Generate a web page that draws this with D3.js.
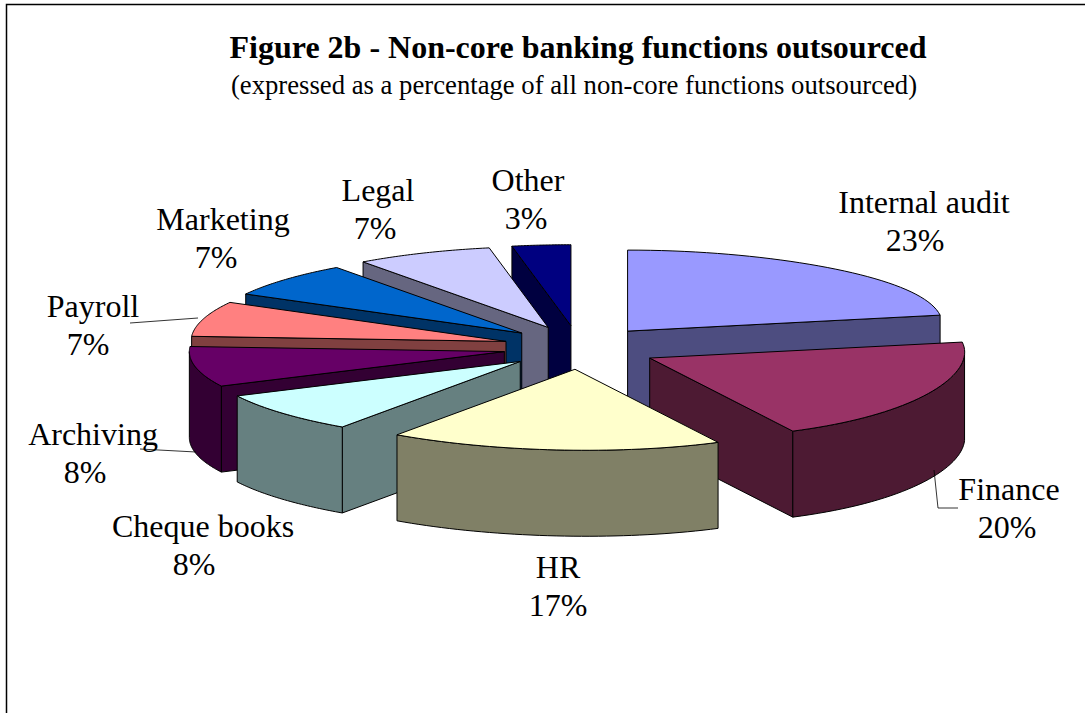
<!DOCTYPE html>
<html>
<head>
<meta charset="utf-8">
<title>Non-core banking functions outsourced</title>
<script src="https://cdn.jsdelivr.net/npm/d3@7"></script>
<style>
  html, body { margin: 0; padding: 0; background: #fff; }
  svg { display: block; }
  text { font-family: "Liberation Serif", "Times New Roman", serif; fill: #000; }
</style>
</head>
<body>
<svg id="chart" width="1085" height="713"></svg>
<script>
// Chart values
const categories = ["Internal audit", "Finance", "HR", "Cheque books", "Archiving", "Payroll", "Marketing", "Legal", "Other"];
const shares = [23, 20, 17, 8, 8, 7, 7, 7, 3];
const topColors = ["#9999ff", "#993366", "#ffffcc", "#ccffff", "#660066", "#ff8080", "#0066cc", "#ccccff", "#000080"];
const sideColors = ["#4d4d80", "#4d1a33", "#808066", "#668080", "#330033", "#804040", "#003366", "#666680", "#000040"];

// Back-to-front painting order for the exploded wedges
const paintOrder = [0, 8, 7, 6, 5, 4, 1, 3, 2];

// Label centres, first-line baselines and the shift of the percentage line
const labelAnchors = [[924, 213], [1009, 500], [558, 578], [203, 537], [93, 445], [93, 317], [223, 230], [378, 201], [528, 191]];
const percentShift = [-9, -2, 0, -9, -8, -5, -7, -3, -2];

// Sideways nudge of individual wedges, in pixels
const wedgeNudge = [0, 6, 4, 0, 0, 0, 0, 0, 0];

// Leader lines for the labels that sit away from their wedges
const leaders = [
  [[934, 470], [938, 508], [958, 508]],
  [[196, 452], [140, 449]],
  [[198, 318], [130, 323]]
];

const svg = d3.select("#chart");

// Outer chart frame, cropped by the page at the bottom and right
svg.append("path")
  .attr("d", "M6.5,713V4.5H1085")
  .attr("fill", "none")
  .attr("stroke", "#000")
  .attr("stroke-width", 1.5);

svg.append("text").attr("x", 578).attr("y", 58).attr("text-anchor", "middle")
  .attr("font-size", 32).attr("font-weight", "bold")
  .text("Figure 2b - Non-core banking functions outsourced");
svg.append("text").attr("x", 574).attr("y", 94).attr("text-anchor", "middle")
  .attr("font-size", 26.7)
  .text("(expressed as a percentage of all non-core functions outsourced)");

// Unit-disc coordinates mapped onto the tilted pie plane
const x = d3.scaleLinear().domain([-1, 1]).range([578 - 315, 578 + 315]);
const y = d3.scaleLinear().domain([-1, 1]).range([347.5 - 81, 347.5 + 81]);
const depth = 86;
const explodeX = 0.238;
const explodeY = 0.27;
const frontLean = 11; // nearest rim points lean right with the view angle
const rightLift = 6;  // rim points on the far right sit slightly higher

const arcs = d3.pie().sort(null).value(d => d)(shares);

const line = d3.line();

function wedgeGeometry(arc, nudge) {
  const mid = (arc.startAngle + arc.endAngle) / 2;
  const ou = explodeX * Math.sin(mid), ov = -explodeY * Math.cos(mid);
  const at = t => {
    const c = Math.cos(t), s = Math.sin(t);
    const lean = c < 0 ? frontLean * c * c : 0;
    const lift = s > 0 ? rightLift * s ** 4 : 0;
    return [x(ou + s) + nudge + lean, y(ov - c) - lift];
  };
  const apex = [x(ou) + nudge, y(ov)];
  const rim = d3.range(0, 41).map(i => arc.startAngle + (arc.endAngle - arc.startAngle) * i / 40);
  return { apex, at, rim, mid };
}

const drop = p => [p[0], p[1] + depth];

function radialWallVisible(apex, edge, inner) {
  const ex = edge[0] - apex[0], ey = edge[1] - apex[1];
  let nx = -ey, ny = ex;
  if (ny < 0) { nx = -nx; ny = -ny; }
  return (inner[0] - apex[0]) * nx + (inner[1] - apex[1]) * ny < 0;
}

const wedgeLayer = svg.append("g")
  .attr("stroke", "#000")
  .attr("stroke-width", 1)
  .attr("stroke-linejoin", "round");

paintOrder.forEach(i => {
  const arc = arcs[i];
  const g = wedgeLayer.append("g");
  const { apex, at, rim, mid } = wedgeGeometry(arc, wedgeNudge[i]);
  const inner = at(mid);

  [arc.startAngle, arc.endAngle].forEach(t => {
    const edge = at(t);
    if (radialWallVisible(apex, edge, inner)) {
      g.append("path")
        .attr("d", line([apex, edge, drop(edge), drop(apex)]) + "Z")
        .attr("fill", sideColors[i]);
    }
  });

  // Outer wall: only the part of the rim that faces forward
  const front = rim.filter(t => Math.cos(t) <= 0);
  if (front.length > 1) {
    const upper = front.map(at);
    g.append("path")
      .attr("d", line(upper.concat(upper.map(drop).reverse())) + "Z")
      .attr("fill", sideColors[i]);
  }

  g.append("path")
    .attr("d", line([apex].concat(rim.map(at))) + "Z")
    .attr("fill", topColors[i]);
});

svg.append("g").selectAll("path").data(leaders).join("path")
  .attr("d", d => line(d))
  .attr("fill", "none")
  .attr("stroke", "#000")
  .attr("stroke-width", 0.8);

const labels = svg.append("g").attr("font-size", 32).attr("text-anchor", "middle");
categories.forEach((name, i) => {
  const [lx, ly] = labelAnchors[i];
  labels.append("text").attr("x", lx).attr("y", ly).text(name);
  labels.append("text").attr("x", lx + percentShift[i]).attr("y", ly + 38).text(shares[i] + "%");
});
</script>
</body>
</html>
